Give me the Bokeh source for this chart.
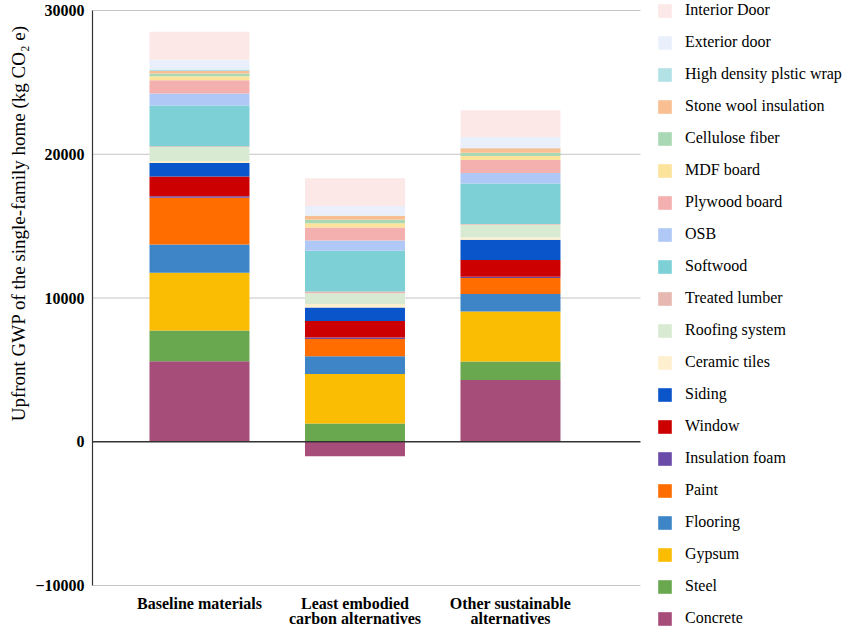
import numpy as np
from bokeh.plotting import figure
from bokeh.models import (Range1d, FixedTicker, Title, Legend, LegendItem,
                          ColumnDataSource)
from bokeh.core.properties import value
from bokeh.embed import file_html
from bokeh.resources import INLINE

# ---- data (stacking order bottom -> top) ----
scenarios = ["Baseline materials", "Least embodied\ncarbon alternatives",
             "Other sustainable\nalternatives"]
materials = ["Concrete", "Steel", "Gypsum", "Flooring", "Paint", "Insulation foam",
             "Window", "Siding", "Ceramic tiles", "Roofing system", "Treated lumber",
             "Softwood", "OSB", "Plywood board", "MDF board", "Cellulose fiber",
             "Stone wool insulation", "High density plstic wrap", "Exterior door",
             "Interior Door"]
baseline = [5600, 2140, 4010, 1980, 3240, 100, 1390, 930, 140, 975, 50,
            2830, 835, 925, 280, 190, 180, 100, 700, 1920]
least = [-1000, 1275, 3440, 1225, 1210, 100, 1155, 930, 255, 745, 110,
         2850, 700, 905, 305, 230, 280, 30, 650, 1930]
other = [4290, 1295, 3480, 1210, 1115, 90, 1160, 1410, 160, 885, 50,
         2825, 725, 905, 280, 230, 300, 30, 765, 1860]
y_ticks = [-10000, 0, 10000, 20000, 30000]

colors = ["#A64D79", "#6AA84F", "#FBBC04", "#3D85C6", "#FF6D00", "#6B4BA8",
          "#CC0000", "#0B55CB", "#FEF0CF", "#D9EAD3", "#E6B8AF",
          "#7CD0D6", "#AFC8F5", "#F4B0AE", "#FCE39C", "#A9D8B4",
          "#F9BF92", "#B2E2E6", "#E9F0FB", "#FDE8E8"]

FONT = "Liberation Serif"
vals = np.array([baseline, least, other], dtype=float)  # shape (3, n)
xs = np.arange(len(scenarios))

# ---- layout geometry (pixels) ----
W, H = 856, 627
LEFT = 92
PLOT_TOP_PX, PLOT_BOT_PX = 10, 585          # where 30000 / -10000 sit
PX_PER_X = 155.5
x_start = -0.688
x_end_bars = 2.836                          # right end of the grid lines
ymin, ymax = y_ticks[0], y_ticks[-1]
s = (PLOT_BOT_PX - PLOT_TOP_PX) / (ymax - ymin)
y_top = ymax + PLOT_TOP_PX / s
y_bot = ymin - (H - PLOT_BOT_PX) / s
x_end = x_start + (W - LEFT) / PX_PER_X

p = figure(width=W, height=H, output_backend="svg", toolbar_location=None,
           x_range=Range1d(x_start, x_end), y_range=Range1d(y_bot, y_top),
           min_border_left=LEFT, min_border_right=0, min_border_top=0,
           min_border_bottom=0)
p.outline_line_color = None
p.background_fill_color = "white"
p.xaxis.visible = False
p.xgrid.visible = False
p.ygrid.visible = False

# grid lines (only over the bar area)
grid_vals = [t for t in y_ticks if t != 0]
p.segment(x0=x_start, x1=x_end_bars, y0=grid_vals, y1=grid_vals,
          line_color="#C4C4C4", line_width=1)

renderers = []
pos_base = np.zeros(3)
neg_base = np.zeros(3)
for i, name in enumerate(materials):
    v = vals[:, i]
    bottom = np.where(v >= 0, pos_base, neg_base)
    top = bottom + v
    pos_base = np.where(v >= 0, top, pos_base)
    neg_base = np.where(v < 0, top, neg_base)
    src = ColumnDataSource(dict(x=xs, bottom=bottom, top=top))
    r = p.vbar(x="x", bottom="bottom", top="top", width=0.643, source=src,
               fill_color=colors[i], line_color=None)
    renderers.append((name, r))

# zero line
p.segment(x0=x_start, x1=x_end_bars, y0=0, y1=0, line_color="#333333", line_width=1.3)

# y axis
p.yaxis.ticker = FixedTicker(ticks=y_ticks)
p.yaxis.bounds = (ymin, ymax)
p.yaxis.axis_line_color = "#333333"
p.yaxis.axis_line_width = 1.2
p.yaxis.major_tick_in = 0
p.yaxis.major_tick_out = 0
p.yaxis.minor_tick_line_color = None
p.yaxis.major_label_standoff = 8
p.yaxis.major_label_text_font = FONT
p.yaxis.major_label_text_font_style = "bold"
p.yaxis.major_label_text_font_size = "16px"
p.yaxis.major_label_text_color = "black"

# category labels under the bars
lab_src = ColumnDataSource(dict(x=xs, y=[ymin - 9 / s] * len(xs), text=scenarios))
p.text(x="x", y="y", text="text", source=lab_src, text_align="center",
       text_baseline="top", text_font=value(FONT), text_font_style="bold",
       text_font_size="16px", text_color="black", text_line_height=0.9)

ytitle = Title(text="Upfront  GWP of the single-family home (kg CO\u2082 e)",
               align="right", offset=20, text_font=FONT, text_font_size="19px",
               text_font_style="normal", text_color="black", standoff=7)
p.add_layout(ytitle, "left")

items = [LegendItem(label=name, renderers=[r]) for name, r in reversed(renderers)]
legend = Legend(items=items, location=(656 - LEFT, 0), orientation="vertical",
                glyph_width=17, glyph_height=17, label_height=17, spacing=14,
                label_standoff=12, padding=0, margin=0,
                label_text_font=FONT, label_text_font_size="16px",
                label_text_color="black",
                border_line_color=None, background_fill_alpha=0)
p.add_layout(legend, "center")

open("out.html", "w").write(file_html(p, INLINE))
